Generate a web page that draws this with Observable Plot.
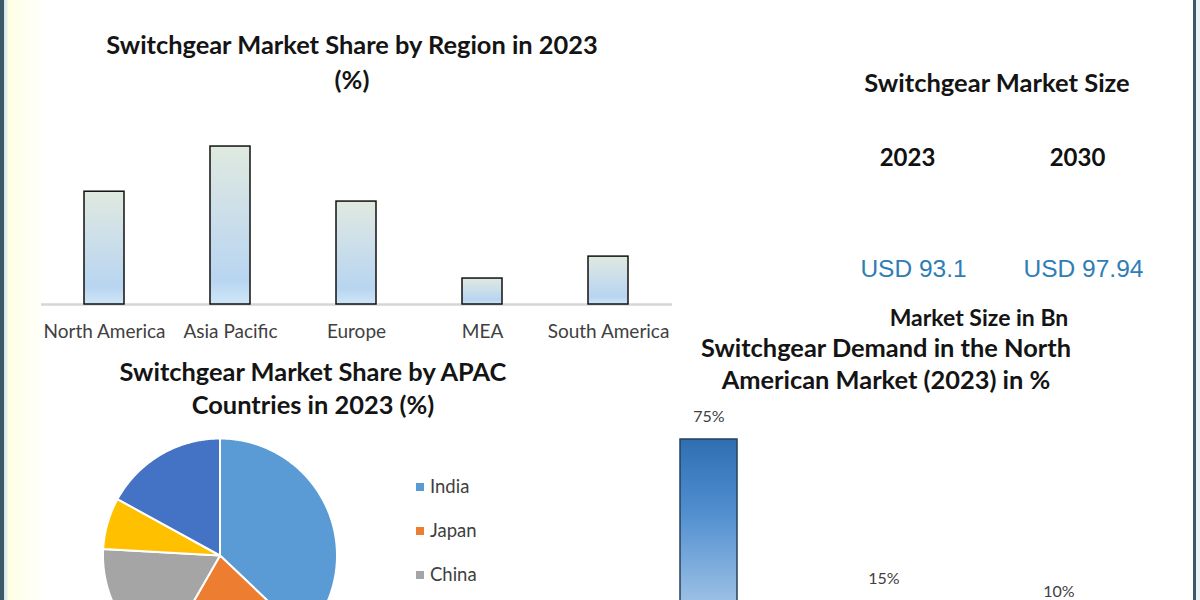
<!DOCTYPE html>
<html><head><meta charset="utf-8">
<script src="https://cdn.jsdelivr.net/npm/d3@7"></script>
<script src="https://cdn.jsdelivr.net/npm/@observablehq/plot@0.6"></script>
<style>
html,body{margin:0;padding:0;background:#fff;}
#root{position:relative;width:1200px;height:600px;overflow:hidden;background:#fff;font-family:Lato,"Noto Sans",sans-serif;}
.bg{position:absolute;left:0;top:0;width:1200px;height:600px;background:linear-gradient(to right,#3b5866 0px,#3b5866 4px,#d4e6ec 4px,#e4f1ee 7px,#fffde4 8px,#fffff0 24px,#ffffff 48px);}
.rb{position:absolute;left:1193px;top:0;width:3px;height:600px;background:#3b5866;}
.rb2{position:absolute;left:1196px;top:0;width:4px;height:600px;background:#e6f2f4;}
.title{position:absolute;transform:translate(-50%,-50%);font-weight:700;color:#141414;white-space:pre;text-align:center;}
.panel{position:absolute;}
.lg{position:absolute;font-size:18.5px;color:#404040;transform:translateY(-50%);white-space:nowrap;}
.lg i{display:inline-block;width:8px;height:8px;margin-right:6px;vertical-align:middle;position:relative;top:-1px;}
</style></head>
<body><div id="root"><div class="bg"></div><div class="rb"></div><div class="rb2"></div></div>
<script>
// ---- data ----
const regions = ["North America", "Asia Pacific", "Europe", "MEA", "South America"];
const regionShare = [25.2, 35.3, 23.0, 5.8, 10.7];

const apacCountries = ["India", "Japan", "China", "South Korea", "Rest of APAC"];
const apacShare = [37.1, 21.2, 17.6, 7.1, 17.0];
const apacColors = ["#5b9bd5", "#ed7d31", "#a5a5a5", "#ffc000", "#4472c4"];

const marketYears = ["2023", "2030"];
const marketSizeBn = [93.1, 97.94];

const naSegments = ["U.S.", "Canada", "Mexico"];
const naShare = [75, 15, 10];

const root = document.getElementById("root");

function place(el, left, top) {
  const d = document.createElement("div");
  d.className = "panel";
  d.style.left = left + "px";
  d.style.top = top + "px";
  d.appendChild(el);
  root.appendChild(d);
  return el;
}
function title(text, cx, cy, size, lh) {
  const d = document.createElement("div");
  d.className = "title";
  d.textContent = text;
  d.style.left = cx + "px";
  d.style.top = cy + "px";
  d.style.fontSize = size + "px";
  d.style.lineHeight = (lh || size * 1.2) + "px";
  root.appendChild(d);
}
function addGradient(svg, id, stops) {
  let defs = d3.select(svg).select("defs");
  if (defs.empty()) defs = d3.select(svg).insert("defs", ":first-child");
  const g = defs.append("linearGradient").attr("id", id).attr("x1", 0).attr("y1", 0).attr("x2", 0).attr("y2", 1);
  stops.forEach(([o, c]) => g.append("stop").attr("offset", o).attr("stop-color", c));
}

// ---- chart 1: region bars ----
const regionData = regions.map((r, i) => ({region: r, share: regionShare[i]}));
const c1 = Plot.plot({
  width: 700, height: 350,
  marginLeft: 41, marginRight: 28, marginTop: 125, marginBottom: 46,
  style: {background: "transparent", fontFamily: "Lato, 'Noto Sans', sans-serif", fontSize: "19px", color: "#404040"},
  x: {domain: regions, paddingInner: 0.68, paddingOuter: 0.34, label: null, tickSize: 0, tickPadding: 20},
  y: {domain: [0, 40], axis: null},
  marks: [
    Plot.ruleY([0], {stroke: "#d6d6d6", strokeWidth: 2.5}),
    Plot.barY(regionData, {x: "region", y: "share", fill: "url(#gRegion)", stroke: "#111", strokeWidth: 1.5})
  ]
});
addGradient(c1, "gRegion", [["0%", "#dfe9df"], ["45%", "#cbdeea"], ["85%", "#b8d5f0"], ["100%", "#cfe6f8"]]);
place(c1, 0, 0);
title("Switchgear Market Share by Region in 2023\n(%)", 352, 62, 25.4, 35);

// ---- chart 2: market size ----
const sizeData = marketYears.map((y, i) => ({year: y, value: marketSizeBn[i]}));
const c2 = Plot.plot({
  width: 400, height: 180,
  marginLeft: 25, marginRight: 35, marginTop: 0, marginBottom: 0,
  style: {background: "transparent", overflow: "visible"},
  x: {domain: marketYears, type: "point", padding: 0.5, axis: null},
  marks: [
    Plot.text(sizeData, {x: "year", text: "year", frameAnchor: "top", dy: 28, dx: -3, fontSize: 24, fontWeight: 700, fill: "#111", fontFamily: "Lato, sans-serif"}),
    Plot.text(sizeData, {x: "year", text: d => `USD ${d.value}`, frameAnchor: "top", dy: 139, dx: 3, fontSize: 24.5, fill: "#2f7db5", fontFamily: "'Liberation Sans', Arial, sans-serif"})
  ]
});
place(c2, 800, 120);
title("Switchgear Market Size", 997, 82, 25.5);
title("Market Size in Bn", 979, 318, 23);

// ---- chart 3: APAC pie ----
const arcs = d3.pie().sort(null).value(d => d)(apacShare);
const piePts = [];
arcs.forEach((a, i) => {
  const name = apacCountries[i];
  piePts.push({name, x: 0, y: 0});
  const n = Math.max(2, Math.ceil((a.endAngle - a.startAngle) / 0.01));
  for (let k = 0; k <= n; k++) {
    const t = a.startAngle + (a.endAngle - a.startAngle) * k / n;
    piePts.push({name, x: Math.sin(t), y: Math.cos(t)});
  }
  piePts.push({name, x: 0, y: 0});
});
const c3 = Plot.plot({
  width: 260, height: 175, margin: 0,
  style: {background: "transparent"},
  x: {domain: [-129.5 / 117, 130.5 / 117], axis: null},
  y: {domain: [-45 / 117, 130 / 117], axis: null},
  color: {domain: apacCountries, range: apacColors},
  marks: [
    Plot.line(piePts, {x: "x", y: "y", z: "name", fill: "name", stroke: "white", strokeWidth: 2, strokeLinejoin: "round", clip: true})
  ]
});
place(c3, 90, 425);
title("Switchgear Market Share by APAC\nCountries in 2023 (%)", 313, 388, 25.4, 33);
// legend entries that fall inside the picture (the rest lie below its lower edge)
apacCountries.slice(0, 3).forEach((c, i) => {
  const d = document.createElement("div");
  d.className = "lg";
  d.style.left = "416px";
  d.style.top = (486 + i * 44) + "px";
  d.innerHTML = `<i style="background:${apacColors[i]}"></i>`;
  d.appendChild(document.createTextNode(c));
  root.appendChild(d);
});

// ---- chart 4: North America demand ----
const naData = naSegments.map((s, i) => ({segment: s, share: naShare[i]}));
const c4 = Plot.plot({
  width: 600, height: 220,
  marginLeft: 21.5, marginRight: 53.5, marginTop: 59, marginBottom: -41.5,
  style: {background: "transparent", fontFamily: "Lato, sans-serif", fontSize: "17px", color: "#404040"},
  x: {domain: naSegments, paddingInner: 0.674, paddingOuter: 0.337, axis: null},
  y: {domain: [0, 75], axis: null},
  color: {domain: naSegments, range: ["url(#gNA1)", "url(#gNA2)", "url(#gNA3)"]},
  marks: [
    Plot.barY(naData, {x: "segment", y: "share", fill: "segment", stroke: "#24425e", strokeWidth: 1.5}),
    Plot.text(naData, {x: "segment", y: "share", text: d => d.share + "%", dy: -23, fontSize: 16, fill: "#404040"})
  ]
});
addGradient(c4, "gNA1", [["0%", "#2f6fb1"], ["35%", "#4f8dcf"], ["100%", "#bcd6ee"]]);
addGradient(c4, "gNA2", [["0%", "#fbf1cf"], ["100%", "#f2c46a"]]);
addGradient(c4, "gNA3", [["0%", "#e9eef2"], ["100%", "#a9b6c2"]]);
place(c4, 600, 380);
title("Switchgear Demand in the North\nAmerican Market (2023) in %", 886, 363, 25.4, 32);
</script>
</body></html>
